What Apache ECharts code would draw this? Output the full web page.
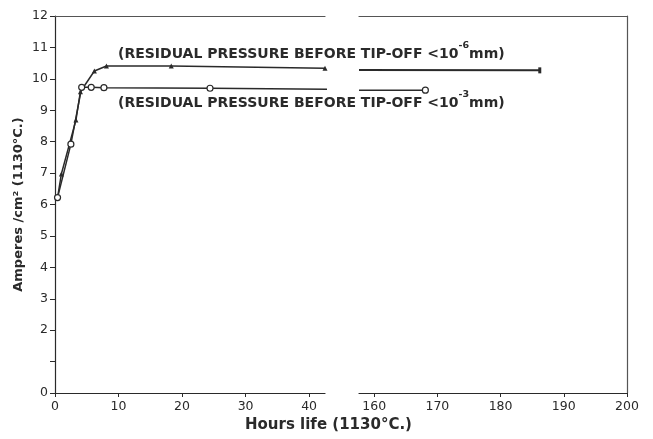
<!DOCTYPE html>
<html>
<head>
<meta charset="utf-8">
<script src="https://cdn.jsdelivr.net/npm/echarts@6/dist/echarts.min.js"></script>
<style>
html,body{margin:0;padding:0;background:#fff;}
#c{width:653px;height:439px;}
</style>
</head>
<body>
<div id="c"></div>
<script>
// Hours life (1130°C.) vs Amperes/cm2 (1130°C.)
const lowPressHoursA = [0.4, 1.0, 3.3, 4.0, 6.2, 8.1, 18.3, 42.5];
const lowPressAmpsA  = [6.22, 6.97, 8.69, 9.59, 10.25, 10.41, 10.41, 10.34];
const lowPressHoursB = [157.6, 186.2];
const lowPressAmpsB  = [10.28, 10.27];

const highPressHoursA = [0.4, 2.5, 4.2, 5.7, 7.7, 24.4, 43.0];
const highPressAmpsA  = [6.22, 7.92, 9.73, 9.73, 9.72, 9.70, 9.67];
const highPressHoursB = [157.6, 168.1];
const highPressAmpsB  = [9.64, 9.64];

const xTicksLeft  = [0, 10, 20, 30, 40];
const xTicksRight = [160, 170, 180, 190, 200];
const yTicks = [0, 1, 2, 3, 4, 5, 6, 7, 8, 9, 10, 11, 12];
const yHiddenLabels = [1];

const labelUpper = ['(RESIDUAL PRESSURE BEFORE TIP-OFF <10', '-6', 'mm)'];
const labelLower = ['(RESIDUAL PRESSURE BEFORE TIP-OFF <10', '-3', 'mm)'];
const xTitle = 'Hours life (1130°C.)';
const yTitle = 'Amperes /cm² (1130°C.)';

const zip = (a, b) => a.map((v, i) => [v, b[i]]);
const ink = '#2a2a2a';
const font = 'DejaVu Sans';

const chart = echarts.init(document.getElementById('c'), null, {renderer: 'canvas'});

function bottomAxis(grid, min, max, ticks) {
  return {
    type: 'value', gridIndex: grid, min: min, max: max, position: 'bottom',
    splitLine: {show: false},
    axisLine: {show: true, lineStyle: {color: ink, width: 1.2}},
    axisTick: {show: true, length: 4, customValues: ticks, lineStyle: {color: ink}},
    axisLabel: {show: true, customValues: ticks, margin: 7, color: ink, fontFamily: font, fontSize: 12.5}
  };
}
function topAxis(grid, min, max) {
  return {
    type: 'value', gridIndex: grid, min: min, max: max, position: 'top',
    splitLine: {show: false},
    axisLine: {show: true, lineStyle: {color: '#555', width: 1.2}},
    axisTick: {show: false}, axisLabel: {show: false}
  };
}
const lastOnly = (name, n) => (val, params) => params.dataIndex === n - 1 ? name : 'none';

const richStyle = {
  a: {fontFamily: font, fontSize: 14, fontWeight: 'bold', fill: ink, lineHeight: 20, verticalAlign: 'bottom'},
  s: {fontFamily: font, fontSize: 9.5, fontWeight: 'bold', fill: ink, lineHeight: 20, verticalAlign: 'top'}
};

const option = {
  backgroundColor: '#fff',
  animation: false,
  grid: [
    {left: 55, top: 16, width: 270, height: 377},
    {left: 359, top: 16, width: 268, height: 377}
  ],
  xAxis: [
    bottomAxis(0, 0, 42.5, xTicksLeft),
    bottomAxis(1, 157.6, 200, xTicksRight),
    topAxis(0, 0, 42.5),
    topAxis(1, 157.6, 200)
  ],
  yAxis: [
    {
      type: 'value', gridIndex: 0, min: 0, max: 12, interval: 1,
      splitLine: {show: false},
      axisLine: {show: true, lineStyle: {color: ink, width: 1.2}},
      axisTick: {show: true, length: 5, lineStyle: {color: ink}},
      axisLabel: {
        margin: 7, color: ink, fontFamily: font, fontSize: 12.5,
        formatter: v => yHiddenLabels.indexOf(v) >= 0 ? '' : String(v)
      },
      name: yTitle, nameLocation: 'middle', nameGap: 30, nameRotate: 90,
      nameTextStyle: {color: ink, fontFamily: font, fontSize: 13, fontWeight: 'bold'}
    },
    {
      type: 'value', gridIndex: 1, min: 0, max: 12, position: 'right',
      splitLine: {show: false},
      axisLine: {show: true, lineStyle: {color: '#555', width: 1.2}},
      axisTick: {show: false}, axisLabel: {show: false}
    }
  ],
  graphic: [
    {
      type: 'text', left: 118, top: 41,
      style: {
        rich: richStyle,
        text: '{a|' + labelUpper[0] + '}{s|' + labelUpper[1] + '}{a|' + labelUpper[2] + '}'
      }
    },
    {
      type: 'text', left: 118, top: 90,
      style: {
        rich: richStyle,
        text: '{a|' + labelLower[0] + '}{s|' + labelLower[1] + '}{a|' + labelLower[2] + '}'
      }
    },
    {
      type: 'text', left: 245, top: 418,
      style: {text: xTitle, fontFamily: font, fontSize: 15, fontWeight: 'bold', fill: ink}
    }
  ],
  series: [
    {
      type: 'line', xAxisIndex: 0, yAxisIndex: 0,
      data: zip(lowPressHoursA, lowPressAmpsA),
      symbol: 'triangle', symbolSize: 5,
      lineStyle: {color: ink, width: 1.5},
      itemStyle: {color: ink}
    },
    {
      type: 'line', xAxisIndex: 1, yAxisIndex: 1,
      data: zip(lowPressHoursB, lowPressAmpsB),
      symbol: lastOnly('rect', lowPressHoursB.length), symbolSize: [3, 6], showSymbol: true,
      lineStyle: {color: ink, width: 2},
      itemStyle: {color: ink}
    },
    {
      type: 'line', xAxisIndex: 0, yAxisIndex: 0,
      data: zip(highPressHoursA, highPressAmpsA),
      symbol: 'circle', symbolSize: 6,
      lineStyle: {color: ink, width: 1.5},
      itemStyle: {color: '#fff', borderColor: ink, borderWidth: 1.2}
    },
    {
      type: 'line', xAxisIndex: 1, yAxisIndex: 1,
      data: zip(highPressHoursB, highPressAmpsB),
      symbol: lastOnly('circle', highPressHoursB.length), symbolSize: 6,
      lineStyle: {color: ink, width: 1.5},
      itemStyle: {color: '#fff', borderColor: ink, borderWidth: 1.2}
    }
  ]
};
chart.setOption(option);
</script>
</body>
</html>
